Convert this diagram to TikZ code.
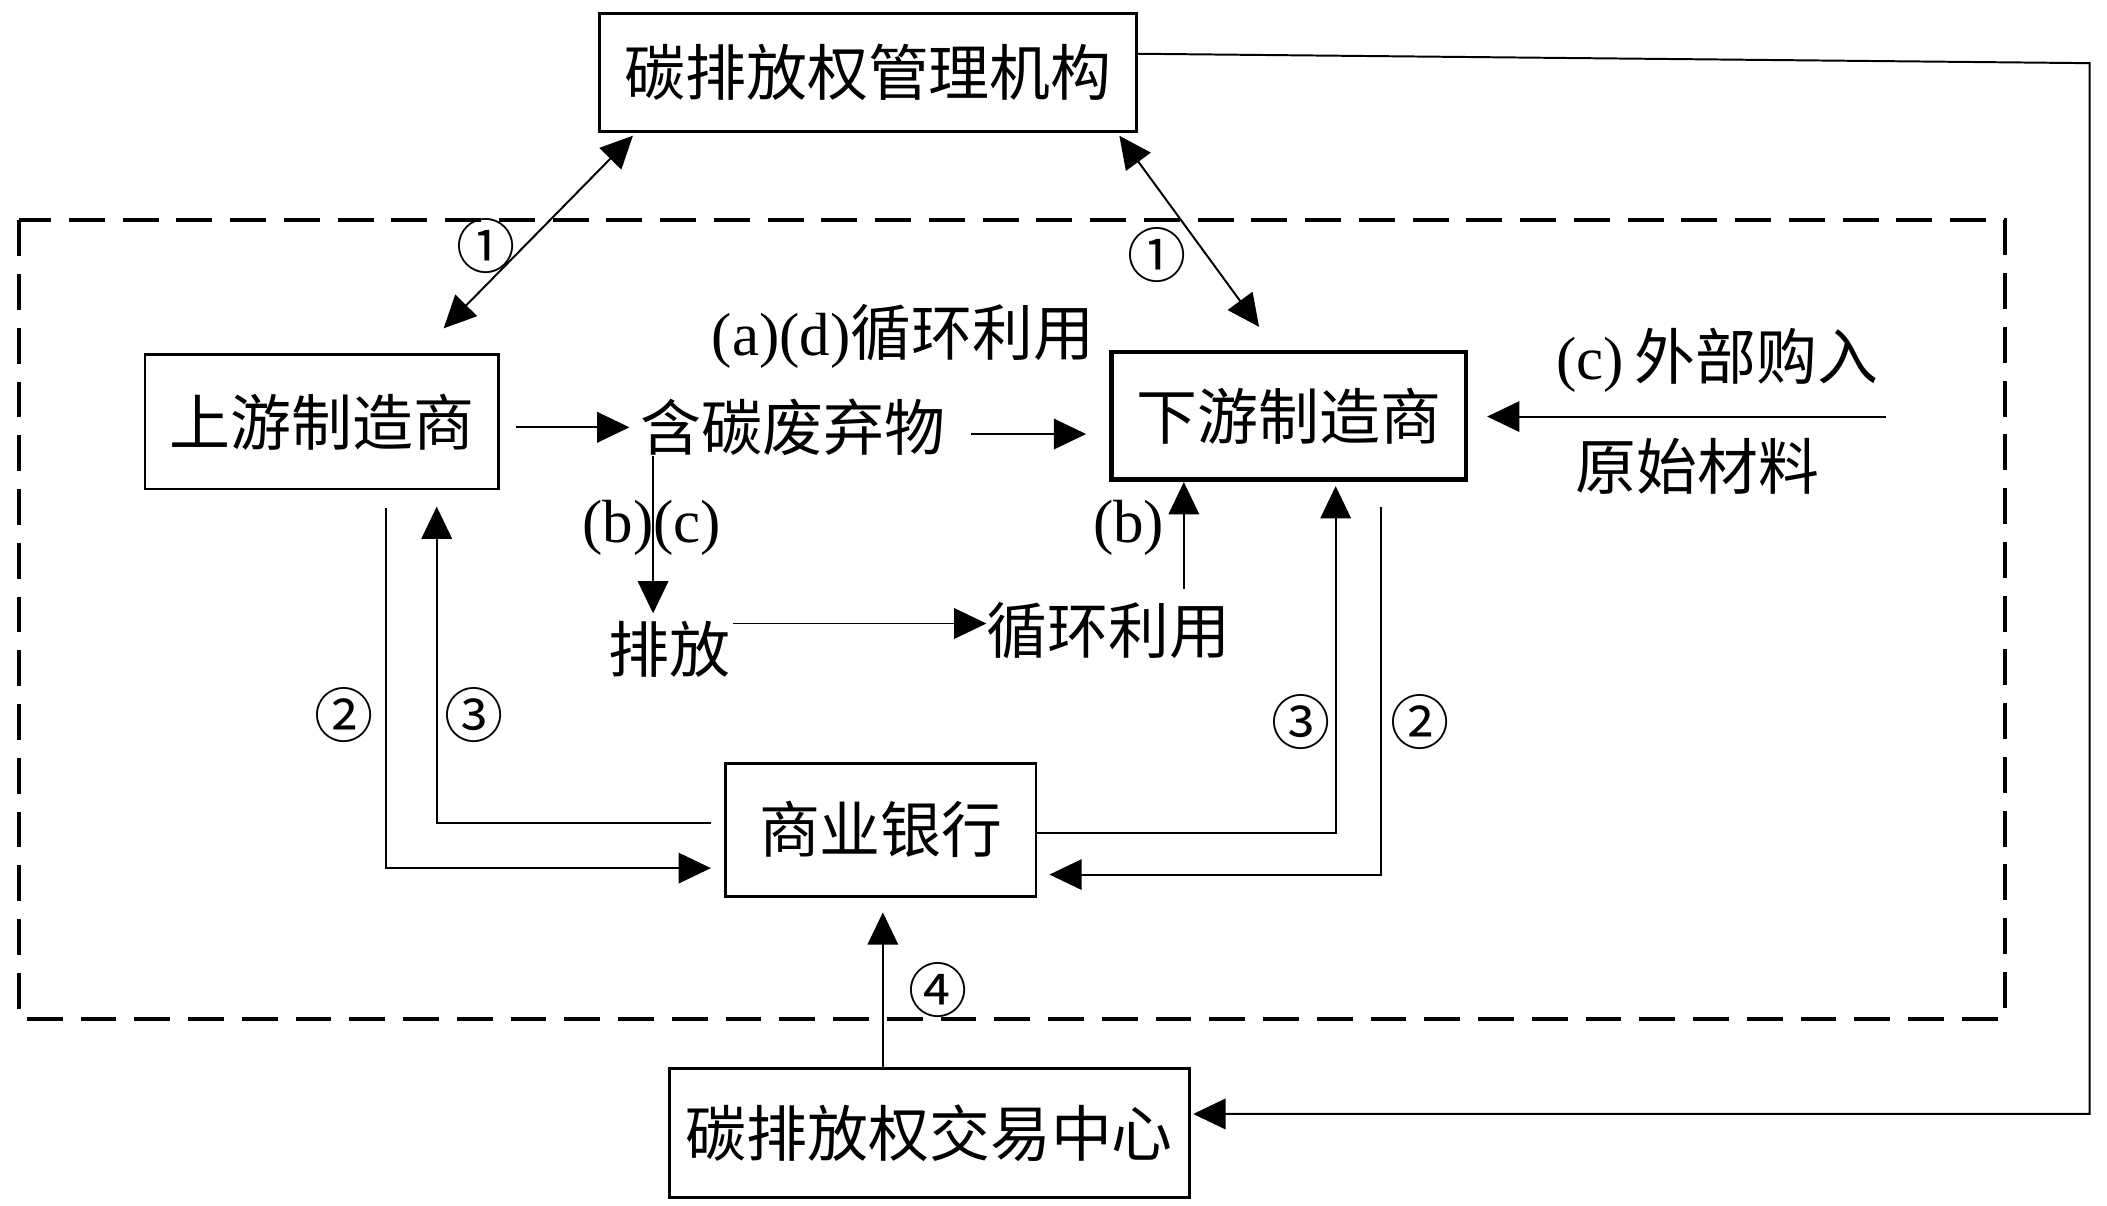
\documentclass[tikz,border=0pt]{standalone}
\usepackage{fontspec}
\setmainfont{Liberation Serif}
\newfontfamily\cjk{Noto Sans CJK SC}
\usetikzlibrary{arrows.meta,calc}
\begin{document}
\begin{tikzpicture}[x=0.75pt,y=-0.75pt,
  box/.style={draw,line width=1.5pt,inner sep=0pt,font=\cjk\fontsize{34}{40}\selectfont},
  lbl/.style={inner sep=0pt,font=\fontsize{34}{40}\selectfont},
  num/.style={inner sep=0pt,font=\cjk\fontsize{33}{36}\selectfont},
  conn/.style={line width=1.1pt,-{Triangle[length=18pt,width=17pt]}},
  dconn/.style={line width=1.1pt,{Triangle[length=18pt,width=17pt]}-{Triangle[length=18pt,width=17pt]}},
  line/.style={line width=1pt}]
\useasboundingbox (0,0) rectangle (1568,897);
% dashed frame
\draw[line width=2.3pt,dash pattern=on 20pt off 10pt] (14,164) rectangle (1492,758);
% boxes
\node[box,minimum width=300pt,minimum height=66pt] (mgmt) at (646,54) {碳排放权管理机构};
\node[box,minimum width=197.25pt,minimum height=75pt] (up) at (239.5,314) {上游制造商};
\node[box,line width=2.6pt,minimum width=198pt,minimum height=71.25pt] (down) at (959,309.5) {下游制造商};
\node[box,minimum width=173.25pt,minimum height=74.25pt] (bank) at (655.5,617.5) {商业银行};
\node[box,minimum width=290.25pt,minimum height=72pt] (trade) at (691.5,843) {碳排放权交易中心};
% labels
\node[lbl] (waste) at (590,318) {\cjk 含碳废弃物};
\node[lbl] (ad) at (672,250) {(a)(d)\cjk 循环利用};
\node[lbl] (emit) at (498,483) {\cjk 排放};
\node[lbl] (recyc) at (825,469) {\cjk 循环利用};
\node[lbl] (ext) at (1278,268) {(c)\,\cjk 外部购入};
\node[lbl] (raw) at (1263,347) {\cjk 原始材料};
\node[lbl] (bc) at (485,393) {(b)(c)};
\node[lbl] (bl) at (840,393) {(b)};
\node[num] (n1a) at (362,183) {①};
\node[num] (n1b) at (861,190) {①};
\node[num] (n2a) at (256,532) {②};
\node[num] (n3a) at (353,532) {③};
\node[num] (n3b) at (968,537) {③};
\node[num] (n2b) at (1057,537) {②};
\node[num] (n4) at (698,737) {④};
% helper coordinates
\coordinate (cL2) at (287,0);
\coordinate (cL3) at (325,0);
\coordinate (cR3) at (994,0);
\coordinate (cR2) at (1028,0);
\coordinate (cB) at (881,0);
\coordinate (c4) at (657,0);
\coordinate (cD) at (486,0);
\coordinate (yA) at (0,318);
\coordinate (yB) at (0,323);
\coordinate (yC) at (0,310);
\coordinate (yE) at (0,464);
\coordinate (cTR) at (1555,47);
% connectors
\draw[conn] ([xshift=9pt]up.east |- yA) -- ([xshift=-6pt]waste.west |- yA);
\draw[conn] ([xshift=14pt]waste.east |- yB) -- ([xshift=-12.75pt]down.west |- yB);
\draw[conn] ([xshift=4pt]ext.east |- yC) -- ([xshift=10.5pt]down.east |- yC);
\draw[conn] (waste.south -| cD) -- ([yshift=4pt]emit.north -| cD);
\draw[conn] ([xshift=1.5pt]emit.east |- yE) -- (recyc.west |- yE);
\draw[conn] ([yshift=7pt]recyc.north -| cB) -- (down.south -| cB);
\draw[conn] ([yshift=-9.75pt]up.south -| cL2) |- ([xshift=-7.5pt,yshift=-21.4pt]bank.west);
\draw[conn] ([xshift=-7.5pt,yshift=4pt]bank.west) -| ([yshift=-9pt]up.south -| cL3);
\draw[conn] ([yshift=-2pt]bank.east) -| ([yshift=-2.25pt]down.south -| cR3);
\draw[conn] ([yshift=-14pt]down.south -| cR2) |- ([xshift=6.75pt,yshift=-25pt]bank.east);
\draw[conn] (trade.north -| c4) -- ([yshift=-8.25pt]bank.south -| c4);
\draw[dconn] ([xshift=19.5pt,yshift=-1.5pt]mgmt.south west) -- ([xshift=68pt,yshift=14pt]up.north);
\draw[dconn] ([xshift=-10.5pt,yshift=-1.5pt]mgmt.south east) -- ([xshift=-16.5pt,yshift=12.75pt]down.north);
\draw[conn] ([yshift=10.5pt]mgmt.east) -- (cTR) |- ([xshift=1.5pt,yshift=10.5pt]trade.east);
\end{tikzpicture}
\end{document}
